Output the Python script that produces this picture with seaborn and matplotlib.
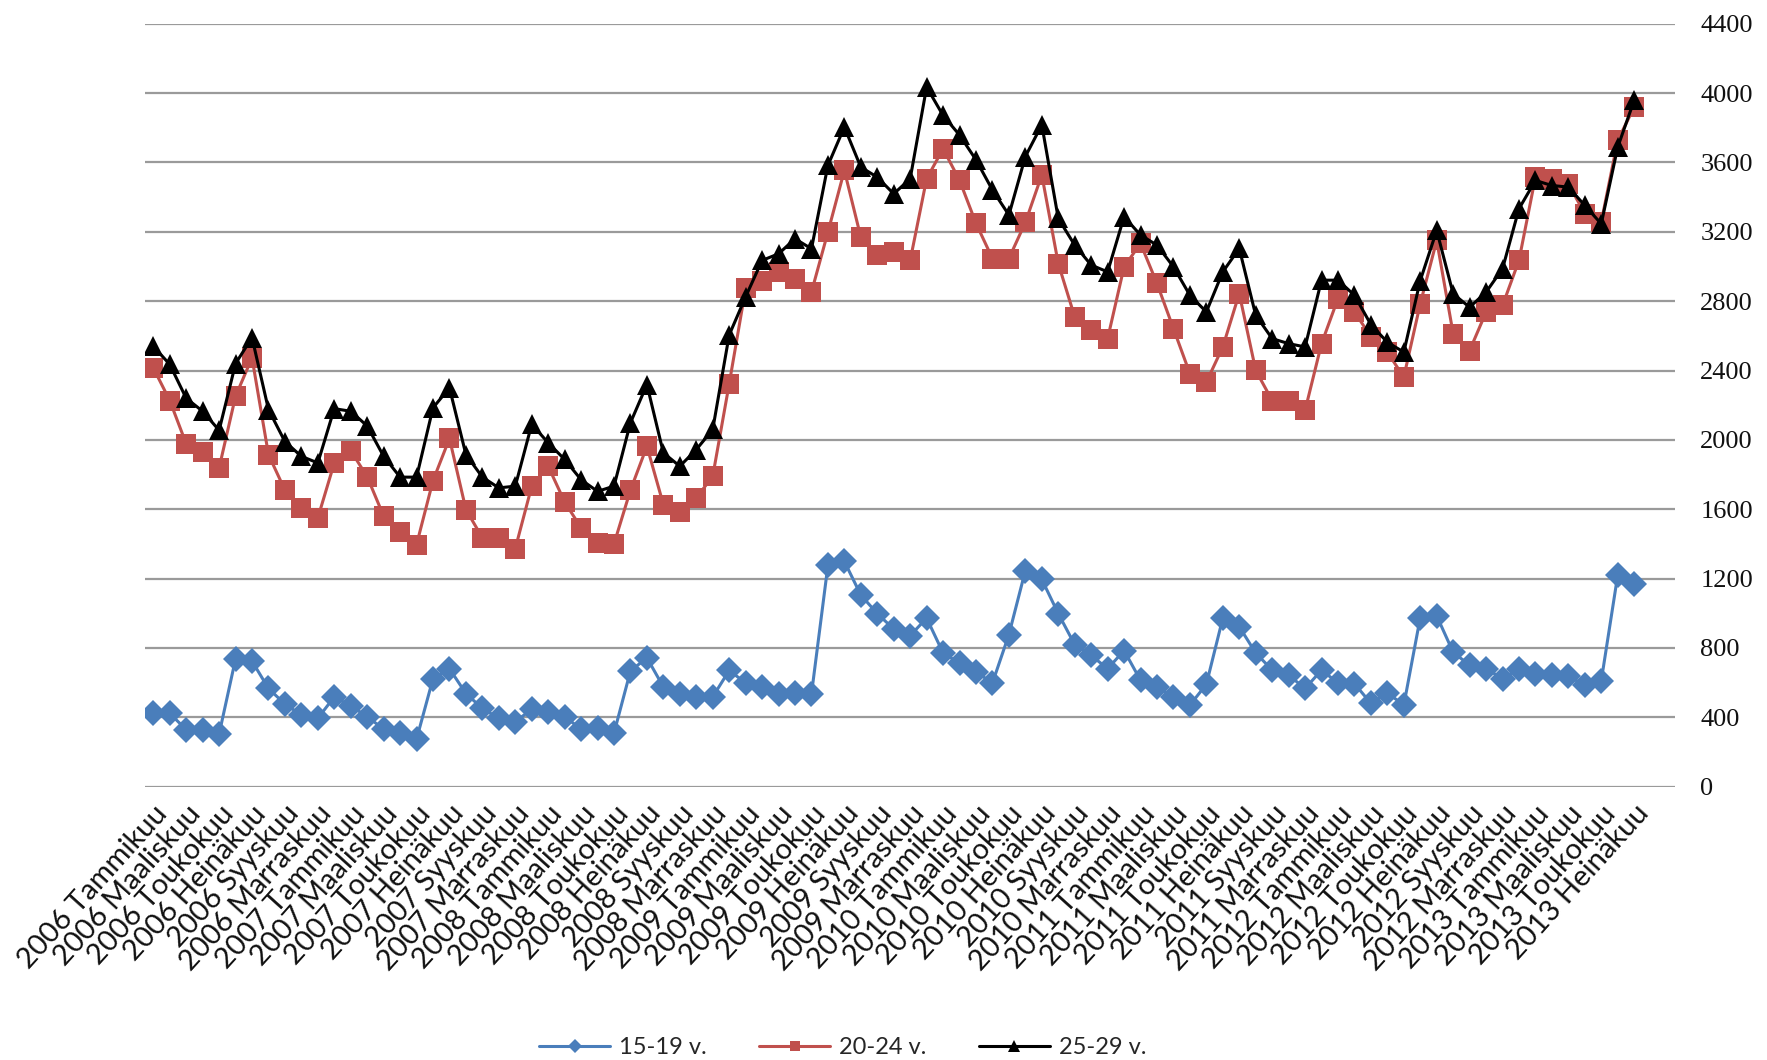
import matplotlib
matplotlib.use("Agg")
import matplotlib.pyplot as plt
import seaborn as sns

# monthly data, 2006 Tammikuu .. 2013 Heinäkuu
years = [2006, 2007, 2008, 2009, 2010, 2011, 2012, 2013]
months = ["Tammikuu", "Helmikuu", "Maaliskuu", "Huhtikuu", "Toukokuu", "Kesäkuu",
          "Heinäkuu", "Elokuu", "Syyskuu", "Lokakuu", "Marraskuu", "Joulukuu"]

age_15_19 = [427, 423, 328, 328, 303, 737, 724, 566, 476, 413, 394, 518,
             465, 404, 331, 309, 274, 623, 680, 537, 451, 394, 375, 446,
             432, 404, 331, 337, 309, 667, 743, 575, 537, 518, 518, 670,
             598, 575, 533, 541, 533, 1276, 1299, 1105, 998, 909, 871, 972,
             771, 712, 661, 598, 877, 1246, 1195, 998, 819, 757, 680, 785,
             613, 575, 518, 470, 590, 972, 922, 771, 672, 643, 566, 672,
             598, 594, 480, 541, 470, 975, 985, 775, 700, 680, 623, 680,
             652, 642, 637, 585, 610, 1219, 1168]

age_20_24 = [2415, 2227, 1977, 1931, 1838, 2252, 2473, 1915, 1710, 1608, 1550, 1867,
             1938, 1787, 1560, 1470, 1396, 1765, 2008, 1598, 1435, 1435, 1373, 1733,
             1848, 1642, 1492, 1406, 1400, 1710, 1963, 1627, 1585, 1665, 1790, 2323,
             2874, 2919, 2967, 2929, 2852, 3198, 3554, 3169, 3067, 3083, 3035, 3506,
             3679, 3497, 3249, 3046, 3046, 3254, 3528, 3017, 2709, 2632, 2584, 2998,
             3133, 2902, 2642, 2382, 2333, 2536, 2844, 2401, 2227, 2227, 2170, 2555,
             2815, 2738, 2595, 2506, 2362, 2785, 3150, 2612, 2515, 2737, 2775, 3035,
             3515, 3506, 3477, 3304, 3256, 3727, 3919]

age_25_29 = [2540, 2435, 2240, 2165, 2055, 2440, 2590, 2175, 1990, 1905, 1867, 2180,
             2165, 2080, 1905, 1785, 1785, 2185, 2300, 1915, 1785, 1723, 1733, 2090,
             1983, 1887, 1770, 1703, 1733, 2099, 2319, 1925, 1848, 1944, 2060, 2605,
             2825, 3035, 3073, 3160, 3102, 3583, 3804, 3573, 3515, 3419, 3506, 4035,
             3871, 3758, 3615, 3441, 3297, 3634, 3817, 3277, 3123, 3008, 2969, 3287,
             3181, 3123, 2998, 2834, 2738, 2969, 3104, 2719, 2584, 2555, 2536, 2921,
             2921, 2834, 2665, 2563, 2506, 2919, 3208, 2842, 2765, 2852, 2987, 3333,
             3496, 3467, 3458, 3352, 3246, 3688, 3958]

series_names = ["15-19 v.", "20-24 v.", "25-29 v."]

labels = [f"{y} {m}" for y in years for m in months][:len(age_15_19)]
x = list(range(len(labels)))

sns.set_theme(style="white")
plt.rcParams["font.family"] = ["Lato", "DejaVu Sans"]

fig = plt.figure(figsize=(17.67, 10.6), dpi=100)
ax = fig.add_axes([0.0821, 0.2579, 0.8660, 0.7197])

sns.lineplot(x=x, y=age_15_19, ax=ax, color="#4a7ebb", linewidth=2.2,
             marker="D", markersize=13, markeredgewidth=0, label=series_names[0], zorder=3)
sns.lineplot(x=x, y=age_20_24, ax=ax, color="#c0504d", linewidth=2.2,
             marker="s", markersize=14, markeredgewidth=0, label=series_names[1], zorder=4)
sns.lineplot(x=x, y=age_25_29, ax=ax, color="#000000", linewidth=2.2,
             marker="^", markersize=15, markeredgewidth=0, label=series_names[2], zorder=5)

ax.set_xlim(-0.5, 92.5)
ax.set_ylim(0, 4400)
ax.set_yticks(range(0, 4401, 400))
ax.yaxis.tick_right()
ax.grid(axis="y", color="#9a9a9a", linewidth=1.6)
ax.grid(axis="x", visible=False)
for s in ax.spines.values():
    s.set_visible(False)

ax.set_xticks(x[::2])
ax.set_xticklabels(labels[::2], rotation=48, ha="right", rotation_mode="anchor",
                   fontsize=21, color="#111111")
ax.tick_params(axis="x", length=0, pad=10)
ax.tick_params(axis="y", length=0, pad=18, labelsize=19, labelcolor="#111111")
for t in ax.get_yticklabels():
    t.set_fontfamily(["Liberation Serif", "DejaVu Serif"])

ax.set_xlabel("")
ax.set_ylabel("")

leg = ax.legend(loc="center", bbox_to_anchor=(0.477, 0.012), bbox_transform=fig.transFigure,
                ncol=3, frameon=False, fontsize=17, handlelength=3.0, markerscale=0.55,
                columnspacing=2.2, handletextpad=0.4)

fig.savefig("out.png", dpi=100)
